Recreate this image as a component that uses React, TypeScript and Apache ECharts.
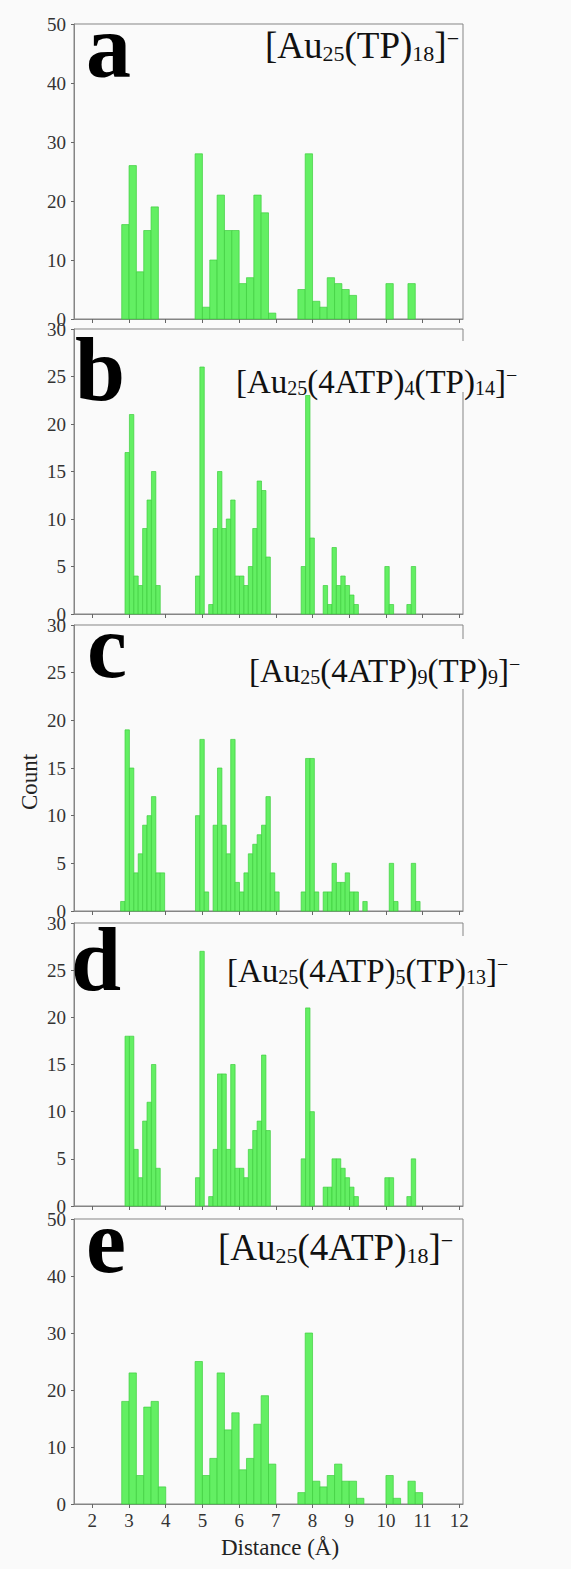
import React, { useEffect, useRef } from 'react';
import * as echarts from 'echarts';

// ---- data ----
const xTicks = [2, 3, 4, 5, 6, 7, 8, 9, 10, 11, 12];
const wideBinStart = 2.8;
const wideBinWidth = 0.2;
const fineBinStart = 2.77;
const fineBinWidth = 0.12;

// panel a: [Au25(TP)18]-  (0.2 Å bins from 2.8)
const countsA = [16, 26, 8, 15, 19, 0, 0, 0, 0, 0, 28, 2, 10, 21, 15, 15, 6, 7, 21, 18, 1, 0, 0, 0, 5, 28, 3, 2, 7, 6, 5, 4, 0, 0, 0, 0, 6, 0, 0, 6, 0];
// panel b: [Au25(4ATP)4(TP)14]-  (0.12 Å bins from 2.77)
const countsB = [0, 17, 21, 4, 3, 9, 12, 15, 3, 0, 0, 0, 0, 0, 0, 0, 0, 4, 26, 0, 1, 9, 15, 9, 10, 12, 4, 4, 3, 5, 9, 14, 13, 6, 0, 0, 0, 0, 0, 0, 0, 5, 23, 8, 0, 0, 3, 1, 7, 3, 4, 3, 2, 1, 0, 0, 0, 0, 0, 0, 5, 1, 0, 0, 0, 1, 5, 0];
// panel c: [Au25(4ATP)9(TP)9]-
const countsC = [1, 19, 15, 4, 6, 9, 10, 12, 4, 4, 0, 0, 0, 0, 0, 0, 0, 10, 18, 2, 0, 9, 15, 9, 6, 18, 3, 2, 4, 6, 7, 8, 9, 12, 4, 2, 0, 0, 0, 0, 0, 2, 16, 16, 2, 0, 2, 2, 5, 3, 3, 4, 2, 2, 0, 1, 0, 0, 0, 0, 0, 5, 1, 0, 0, 0, 5, 1];
// panel d: [Au25(4ATP)5(TP)13]-
const countsD = [0, 18, 18, 6, 3, 9, 11, 15, 4, 0, 0, 0, 0, 0, 0, 0, 0, 3, 27, 0, 1, 6, 14, 14, 6, 15, 4, 4, 3, 6, 8, 9, 16, 8, 0, 0, 0, 0, 0, 0, 0, 5, 21, 10, 0, 0, 2, 2, 5, 5, 4, 3, 2, 1, 0, 0, 0, 0, 0, 0, 3, 3, 0, 0, 0, 1, 5, 0];
// panel e: [Au25(4ATP)18]-  (0.2 Å bins from 2.8)
const countsE = [18, 23, 5, 17, 18, 3, 0, 0, 0, 0, 25, 5, 8, 23, 13, 16, 6, 8, 14, 19, 7, 0, 0, 0, 2, 30, 4, 3, 5, 7, 4, 4, 1, 0, 0, 0, 5, 1, 0, 4, 2];

const yMaxes = [50, 30, 30, 30, 50];
const yIntervals = [10, 5, 5, 5, 10];
const panelLetters = ['a', 'b', 'c', 'd', 'e'];
const panelTitles = [
  '{m|[Au}{s|25}{m|(TP)}{s|18}{m|]}{p|−}',
  '{m|[Au}{s|25}{m|(4ATP)}{s|4}{m|(TP)}{s|14}{m|]}{p|−}',
  '{m|[Au}{s|25}{m|(4ATP)}{s|9}{m|(TP)}{s|9}{m|]}{p|−}',
  '{m|[Au}{s|25}{m|(4ATP)}{s|5}{m|(TP)}{s|13}{m|]}{p|−}',
  '{m|[Au}{s|25}{m|(4ATP)}{s|18}{m|]}{p|−}',
];
const xAxisName = 'Distance (Å)';
const yAxisName = 'Count';

// ---- layout ----
const W = 571;
const H = 1569;
const BG = '#fafafa';
const FONT = '"Liberation Serif", "Times New Roman", serif';
const gridLeft = 74;
const gridWidth = 389;
const gridTops = [24, 329, 625, 923, 1219];
const gridHeights = [295, 285, 286, 283, 285];
const letterPos = [[86, 77], [75, 400], [87, 677], [71, 990], [86, 1272]];
const titlePos = [[265, 58], [236, 393], [249, 682], [227, 982], [218, 1260]];
const titleSizes = [37, 33, 33, 33, 37];
const borderGaps = [null, [341, 392], [639, 689], [936, 986], null];

const panels = [
  { counts: countsA, start: wideBinStart, width: wideBinWidth },
  { counts: countsB, start: fineBinStart, width: fineBinWidth },
  { counts: countsC, start: fineBinStart, width: fineBinWidth },
  { counts: countsD, start: fineBinStart, width: fineBinWidth },
  { counts: countsE, start: wideBinStart, width: wideBinWidth },
];

export default function App() {
  const ref = useRef<HTMLDivElement>(null);
  useEffect(() => {
    document.body.style.margin = '0';
    document.body.style.background = BG;
    if (!ref.current) return;
    const chart = echarts.init(ref.current, null, { renderer: 'svg' });

    const grid = gridTops.map((t, i) => ({
      left: gridLeft,
      width: gridWidth,
      top: t,
      height: gridHeights[i],
      show: true,
      borderColor: '#858585',
      borderWidth: 1,
      backgroundColor: 'transparent',
    }));

    const xAxis = panels.map((_, i) => ({
      type: 'value',
      gridIndex: i,
      min: 1.5,
      max: 12.1,
      splitLine: { show: false },
      axisLine: { show: true, lineStyle: { color: '#858585', width: 1 } },
      axisTick: { show: true, inside: false, length: 4, customValues: xTicks, lineStyle: { color: '#666' } },
      axisLabel: {
        show: i === 4,
        customValues: xTicks,
        fontFamily: FONT,
        fontSize: 19,
        color: '#333',
        margin: 7,
      },
    }));

    const yAxis = panels.map((_, i) => ({
      type: 'value',
      gridIndex: i,
      min: 0,
      max: yMaxes[i],
      interval: yIntervals[i],
      splitLine: { show: false },
      axisLine: { show: true, lineStyle: { color: '#858585', width: 1 } },
      axisTick: { show: true, inside: false, length: 3, lineStyle: { color: '#666' } },
      axisLabel: { fontFamily: FONT, fontSize: 19, color: '#333', margin: 8 },
    }));

    const series = panels.map((p, i) => ({
      type: 'custom',
      xAxisIndex: i,
      yAxisIndex: i,
      clip: false,
      encode: { x: [0, 1], y: 2 },
      data: p.counts
        .map((c, k) => [p.start + k * p.width, p.start + (k + 1) * p.width, c])
        .filter((d) => d[2] > 0),
      renderItem: (params: any, api: any) => {
        const top = api.coord([api.value(0), api.value(2)]);
        const bot = api.coord([api.value(1), 0]);
        return {
          type: 'rect',
          shape: { x: top[0], y: top[1], width: bot[0] - top[0], height: bot[1] - top[1] },
          style: { fill: '#63ef63', stroke: '#3fcf3f', lineWidth: 0.7 },
        };
      },
    }));

    const graphic: any[] = [];
    borderGaps.forEach((g) => {
      if (!g) return;
      graphic.push({
        type: 'rect',
        z: 100,
        shape: { x: gridLeft + gridWidth - 5, y: g[0], width: 10, height: g[1] - g[0] },
        style: { fill: BG },
      });
    });
    panelLetters.forEach((l, i) => {
      const F = 90;
      graphic.push({
        type: 'text',
        z: 101,
        x: letterPos[i][0],
        y: letterPos[i][1] - 0.3375 * F,
        style: {
          text: l,
          font: `bold ${F}px ${FONT}`,
          lineHeight: 62,
          fill: '#000',
          align: 'left',
          verticalAlign: 'middle',
        },
      });
    });
    panelTitles.forEach((t, i) => {
      const F = titleSizes[i];
      const Fs = Math.round(F * 0.6);
      graphic.push({
        type: 'text',
        z: 101,
        x: titlePos[i][0],
        y: titlePos[i][1] - 0.8375 * F,
        style: {
          text: t,
          fill: '#111',
          align: 'left',
          verticalAlign: 'top',
          rich: {
            m: { fontSize: F, fontFamily: FONT, lineHeight: F, verticalAlign: 'middle', fill: '#111' },
            s: { fontSize: Fs, fontFamily: FONT, lineHeight: Fs, verticalAlign: 'bottom', fill: '#111' },
            p: { fontSize: Fs, fontFamily: FONT, lineHeight: 8, verticalAlign: 'top', fill: '#111' },
          },
        },
      });
    });
    graphic.push({
      type: 'text',
      z: 101,
      x: 280,
      y: 1547,
      style: { text: xAxisName, font: `23px ${FONT}`, fill: '#222', align: 'center', verticalAlign: 'middle' },
    });
    graphic.push({
      type: 'text',
      z: 101,
      x: 29,
      y: 782,
      rotation: Math.PI / 2,
      style: { text: yAxisName, font: `23px ${FONT}`, fill: '#222', align: 'center', verticalAlign: 'middle' },
    });

    chart.setOption({
      animation: false,
      backgroundColor: BG,
      grid,
      xAxis,
      yAxis,
      series,
      graphic,
    } as any);
    return () => chart.dispose();
  }, []);
  return <div ref={ref} style={{ width: W, height: H, background: BG }} />;
}
